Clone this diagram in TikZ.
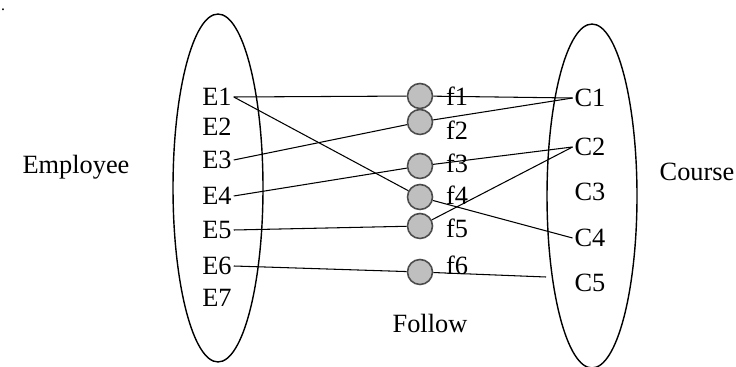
\documentclass[tikz,border=0pt]{standalone}
\usepackage{fontspec}
\setmainfont{Liberation Serif}
\usetikzlibrary{positioning}
\begin{document}
\begin{tikzpicture}[x=0.02cm, y=-0.02cm, font=\fontsize{15}{18}\selectfont,
	rel/.style={circle, draw=black!70, fill=black!25, line width=0.9pt, minimum size=0.5cm, inner sep=0pt},
	item/.style={inner sep=1pt},
	link/.style={line width=0.6pt}]
	\useasboundingbox (0,0) rectangle (736,367);
	
	% Sets
	\draw[line width=0.8pt] (218,188) ellipse [x radius=0.9cm, y radius=3.48cm];
	\draw[line width=0.8pt] (592,196) ellipse [x radius=0.9cm, y radius=3.44cm];
	
	\node (emp) at (76,167) {Employee};
	\node (crs) at (697,172) {Course};
	\node (fol) at (430,323) {Follow};
	\node[inner sep=0pt, font=\small] (dot) at (3,10) {.};
	
	% Employees
	\node[item] (E1) at (217,97) {E1};
	\node[item] (E2) at (217,127) {E2};
	\node[item] (E3) at (217,160) {E3};
	\node[item] (E4) at (217,196) {E4};
	\node[item] (E5) at (217,230) {E5};
	\node[item] (E6) at (217,266) {E6};
	\node[item] (E7) at (217,298) {E7};
	
	% Courses
	\node[item] (C1) at (590,98) {C1};
	\node[item] (C2) at (590,147) {C2};
	\node[item] (C3) at (590,192) {C3};
	\node[item] (C4) at (590,238) {C4};
	\node[item] (C5) at (590,283) {C5};
	\coordinate (c5end) at (546,277);
	
	% Follow relation
	\node[rel] (f1) at (420,96) {};
	\node[rel] (f2) at (420,122) {};
	\node[rel] (f3) at (420,166) {};
	\node[rel] (f4) at (420,197) {};
	\node[rel] (f5) at (420,226) {};
	\node[rel] (f6) at (420,272) {};
	
	\node[item] (fl1) at (457,96) {f1};
	\node[item] (fl2) at (457,130) {f2};
	\node[item] (fl3) at (457,163) {f3};
	\node[item] (fl4) at (457,195) {f4};
	\node[item] (fl5) at (457,228) {f5};
	\node[item] (fl6) at (457,265) {f6};
	
	% connections
	\draw[link] (E1.east) -- (f1) -- (C1.west);
	\draw[link] (E1.east) -- (f4) -- (C4.west);
	\draw[link] (E3.east) -- (f2) -- (C1.west);
	\draw[link] (E4.east) -- (f3) -- (C2.west);
	\draw[link] (E5.east) -- (f5) -- (C2.west);
	\draw[link] (E6.east) -- (f6) -- (c5end);
\end{tikzpicture}
\end{document}
